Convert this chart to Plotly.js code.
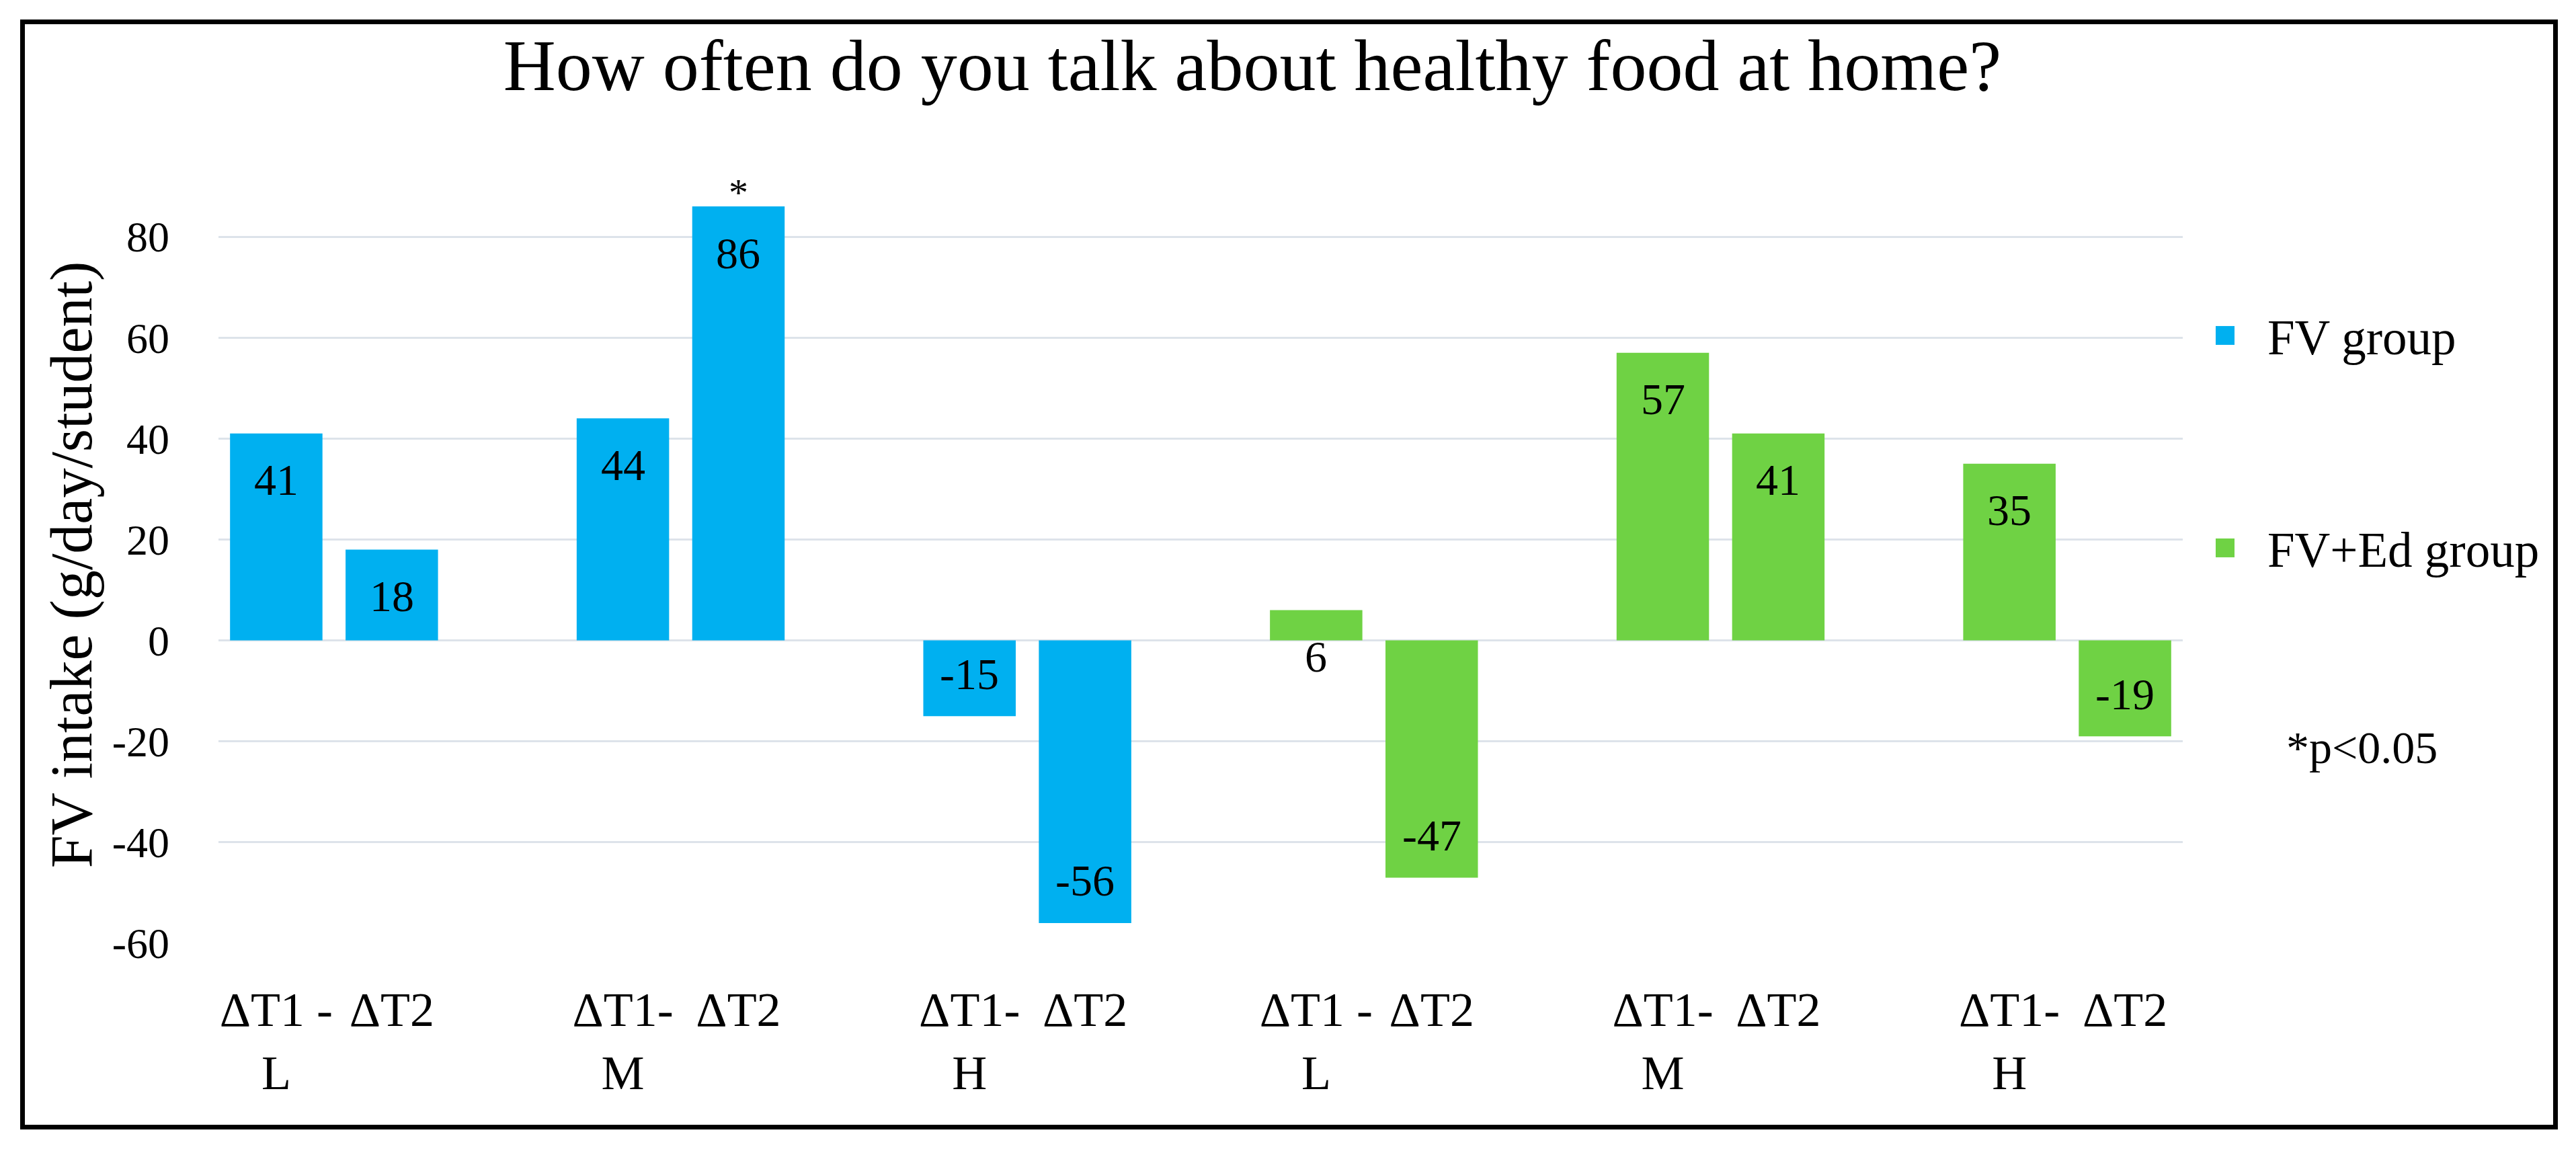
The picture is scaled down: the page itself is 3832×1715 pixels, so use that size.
<!DOCTYPE html>
<html><head><meta charset="utf-8">
<script src="https://cdn.plot.ly/plotly-3.0.1.min.js"></script>
<style>
html,body{margin:0;padding:0;background:#fff;}
#chart{width:3832px;height:1715px;}
#frame{position:absolute;left:30px;top:29px;width:3775px;height:1651px;border:7px solid #000;box-sizing:border-box;pointer-events:none;}
</style></head><body>
<div id="chart"></div><div id="frame"></div>
<script>
const titleText = "How often do you talk about healthy food at home?";
const yTitleText = "FV intake (g/day/student)";
const seriesNames = ["FV group", "FV+Ed group"];
const fvTickLabels = ["ΔT1 -<br>L", "ΔT2", "ΔT1-<br>M", "ΔT2", "ΔT1-<br>H", "ΔT2"];
const fvEdTickLabels = ["ΔT1 -<br>L", "ΔT2", "ΔT1-<br>M", "ΔT2", "ΔT1-<br>H", "ΔT2"];
const fvValues = [41, 18, 44, 86, -15, -56];
const fvEdValues = [6, -47, 57, 41, 35, -19];
const fvSignificance = ["", "", "", "*", "", ""];
const fvEdSignificance = ["", "", "", "", "", ""];
const yTickValues = [-60, -40, -20, 0, 20, 40, 60, 80];
const yTickLabels = ["-60", "-40", "-20", "0", "20", "40", "60", "80"];
const footnoteText = "*p&lt;0.05";

const FONT = "Liberation Serif, Times New Roman, serif";
const colors = ["#00b0f0", "#6fd244"];

const seriesList = [
  {name: seriesNames[0], labels: fvTickLabels, values: fvValues, sig: fvSignificance, key: "FV"},
  {name: seriesNames[1], labels: fvEdTickLabels, values: fvEdValues, sig: fvEdSignificance, key: "ED"}
];

// category order: pairs of bars separated by an empty slot
const categoryOrder = [];
const tickVals = [];
const tickText = [];
seriesList.forEach((s, si) => {
  s.keys = s.values.map((v, i) => s.key + "-" + i);
  s.keys.forEach((k, i) => {
    if (categoryOrder.length && i % 2 === 0) categoryOrder.push("gap-" + si + "-" + i);
    categoryOrder.push(k);
    tickVals.push(k);
    tickText.push(s.labels[i]);
  });
});

const traces = seriesList.map((s, si) => ({
  type: "bar",
  name: s.name,
  x: s.keys,
  y: s.values,
  marker: {color: colors[si]},
  legend: si === 0 ? "legend" : "legend2",
  hoverinfo: "x+y"
}));

const annotations = [];
seriesList.forEach(s => {
  s.keys.forEach((k, i) => {
    const v = s.values[i];
    annotations.push({
      x: k, y: v, xref: "x", yref: "y", text: String(v), showarrow: false,
      yanchor: "middle", yshift: v >= 0 ? -69 : 63,
      font: {family: FONT, size: 66, color: "#000"}
    });
    if (s.sig[i]) {
      annotations.push({
        x: k, y: v, xref: "x", yref: "y", text: s.sig[i], showarrow: false,
        yanchor: "bottom", yshift: -14,
        font: {family: FONT, size: 58, color: "#000"}
      });
    }
  });
});
annotations.push({
  text: footnoteText, showarrow: false, xref: "paper", yref: "paper",
  x: (3530 - 325) / (3262 - 325), y: (1403 - 1112) / (1403 - 277),
  xanchor: "center", yanchor: "middle",
  font: {family: FONT, size: 68, color: "#000"}
});

const legendBase = {
  xref: "container", yref: "container", xanchor: "left", yanchor: "middle",
  font: {family: FONT, size: 73, color: "#000"},
  itemwidth: 116, bgcolor: "rgba(0,0,0,0)", borderwidth: 0
};

const layout = {
  width: 3832, height: 1715,
  paper_bgcolor: "#fff", plot_bgcolor: "#fff",
  margin: {l: 325, r: 570, t: 277, b: 312, pad: 0},
  title: {
    text: titleText, xref: "container", yref: "container",
    x: 1863 / 3832, xanchor: "center", y: 1 - 96 / 1715, yanchor: "middle",
    font: {family: FONT, size: 108, color: "#000"}
  },
  barmode: "overlay",
  bargap: 0.2,
  showlegend: true,
  legend: Object.assign({}, legendBase, {x: 3247 / 3832, y: 1 - 499 / 1715}),
  legend2: Object.assign({}, legendBase, {x: 3247 / 3832, y: 1 - 815 / 1715}),
  xaxis: {
    type: "category",
    categoryorder: "array",
    categoryarray: categoryOrder,
    range: [-0.5, categoryOrder.length - 0.5],
    tickmode: "array", tickvals: tickVals, ticktext: tickText,
    showgrid: false, zeroline: false, showline: false, ticks: "",
    ticklabelstandoff: 50,
    tickfont: {family: FONT, size: 72, color: "#000"},
    tickangle: 0
  },
  yaxis: {
    range: [-60, 90],
    tickmode: "array", tickvals: yTickValues, ticktext: yTickLabels,
    showgrid: true, gridcolor: "#dde3ea", gridwidth: 3,
    zeroline: false, showline: false, ticks: "",
    ticklabelstandoff: 72,
    tickfont: {family: FONT, size: 64, color: "#000"},
    title: {text: yTitleText, standoff: 0, font: {family: FONT, size: 88, color: "#000"}}
  },
  annotations: annotations
};

function enlargeLegendIcons() {
  document.querySelectorAll("#chart .legendpoints path").forEach(p => p.setAttribute("d", "M14,14H-14V-14H14Z"));
}

const gdEl = document.getElementById("chart");
Plotly.newPlot(gdEl, traces, layout, {displayModeBar: false, staticPlot: true}).then(gd => {
  enlargeLegendIcons();
  gd.on("plotly_afterplot", enlargeLegendIcons);
  setTimeout(enlargeLegendIcons, 50);
  setTimeout(enlargeLegendIcons, 300);
});
</script>
</body></html>
